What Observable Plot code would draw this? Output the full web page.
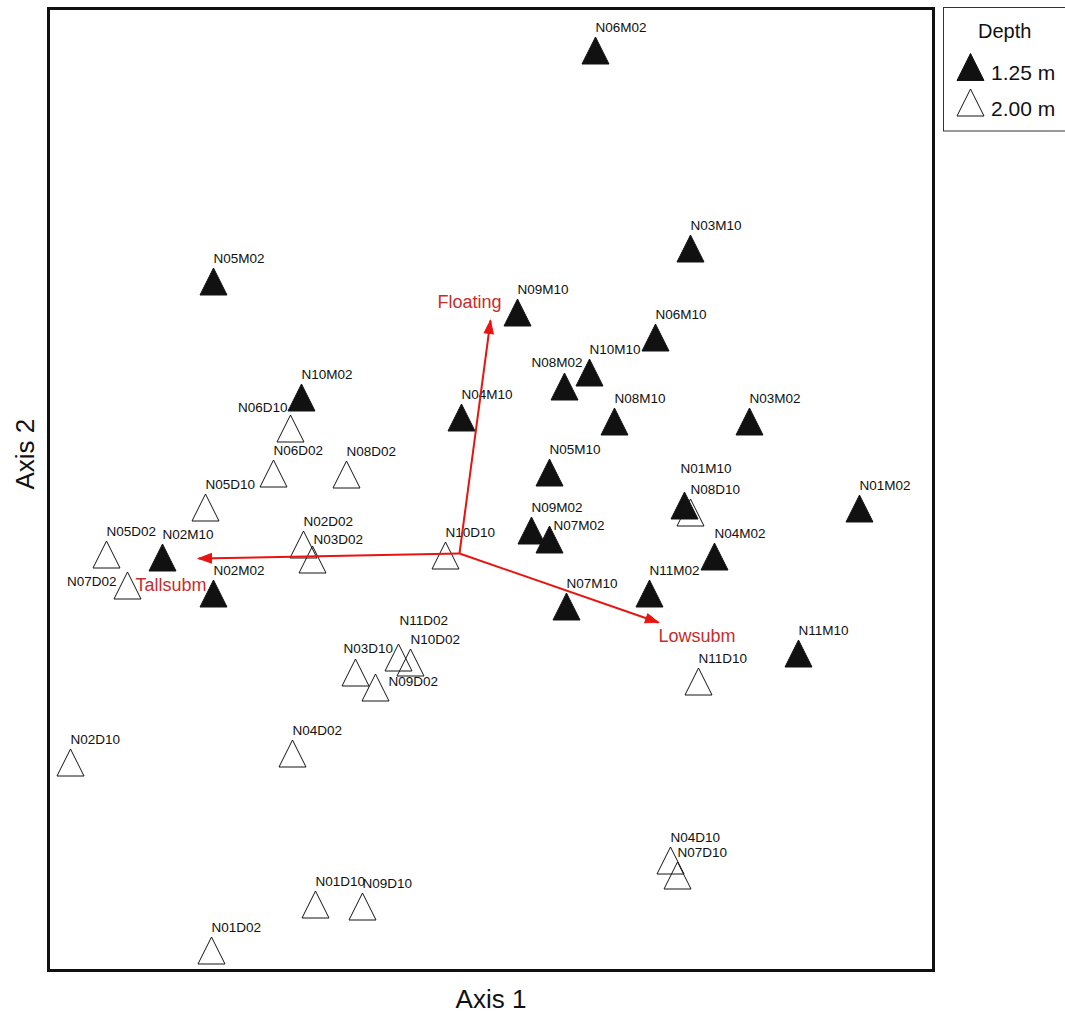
<!DOCTYPE html>
<html>
<head>
<meta charset="utf-8">
<script src="https://cdn.jsdelivr.net/npm/d3@7"></script>
<script src="https://cdn.jsdelivr.net/npm/@observablehq/plot@0.6"></script>
<style>
  html, body { margin: 0; padding: 0; background: #fff; }
  #figure { position: relative; width: 1065px; height: 1015px; overflow: hidden; }
  #legend { position: absolute; left: 943px; top: 7px; }
</style>
</head>
<body>
<div id="figure"></div>
<script>
// Sample unit scores on the first two ordination axes
const sites = [
  "N06M02", "N03M10", "N05M02", "N09M10", "N06M10", "N10M10", "N08M02", "N10M02",
  "N04M10", "N08M10", "N03M02", "N05M10", "N01M10", "N01M02", "N09M02", "N07M02",
  "N04M02", "N02M10", "N11M02", "N02M02", "N07M10", "N11M10",
  "N06D10", "N06D02", "N08D02", "N05D10", "N08D10", "N02D02", "N05D02", "N10D10",
  "N03D02", "N07D02", "N11D02", "N10D02", "N03D10", "N11D10", "N09D02", "N04D02",
  "N02D10", "N04D10", "N07D10", "N01D10", "N09D10", "N01D02"
];
const axis1 = [
  1.36, 2.31, -2.46, 0.58, 1.96, 1.30, 1.05, -1.58,
  0.02, 1.55, 2.90, 0.90, 2.25, 4.00, 0.72, 0.90,
  2.55, -2.97, 1.90, -2.46, 1.07, 3.39,
  -1.69, -1.86, -1.13, -2.54, 2.31, -1.56, -3.53, -0.14,
  -1.47, -3.32, -0.61, -0.49, -1.04, 2.39, -0.84, -1.67,
  -3.89, 2.11, 2.18, -1.44, -0.97, -2.48
];
const axis2 = [
  5.03, 3.05, 2.72, 2.41, 2.16, 1.81, 1.67, 1.56,
  1.36, 1.32, 1.32, 0.81, 0.48, 0.45, 0.23, 0.14,
  -0.03, -0.04, -0.40, -0.40, -0.53, -1.00,
  1.25, 0.80, 0.79, 0.46, 0.41, 0.09, -0.01, -0.02,
  -0.06, -0.32, -1.04, -1.09, -1.19, -1.28, -1.34, -2.00,
  -2.09, -3.07, -3.22, -3.51, -3.53, -3.97
];

// Depth groups: "M" samples at 1.25 m, "D" samples at 2.00 m
const depthLevels = ["1.25 m", "2.00 m"];

// Biplot vectors for the growth-form variables
const vectorNames = ["Floating", "Tallsubm", "Lowsubm"];
const vectorAxis1 = [0.31, -2.61, 1.99];
const vectorAxis2 = [2.33, -0.05, -0.69];

const samples = sites.map((site, i) => ({
  site,
  axis1: axis1[i],
  axis2: axis2[i],
  depth: site[3] === "M" ? depthLevels[0] : depthLevels[1]
}));
const vectors = vectorNames.map((name, i) => ({name, axis1: vectorAxis1[i], axis2: vectorAxis2[i]}));

// Label placement for crowded samples (pixel offsets from the point)
const labelNudges = [
  {site: "N06D10", dx: -3, dy: -17, anchor: "end"},
  {site: "N07D02", dx: -11, dy: 0, anchor: "end"},
  {site: "N03D02", dx: 1, dy: -16, anchor: "start"},
  {site: "N03D10", dx: -12, dy: -20, anchor: "start"},
  {site: "N09D02", dx: 13, dy: -2, anchor: "start"},
  {site: "N11D02", dx: 1, dy: -33, anchor: "start"},
  {site: "N01M10", dx: -4, dy: -33, anchor: "start"},
  {site: "N07M02", dx: 4, dy: -10, anchor: "start"},
  {site: "N08M02", dx: -33, dy: -20, anchor: "start"}
];
const vectorLabelStyle = {
  Floating: {dx: 11, dy: -13, anchor: "end"},
  Tallsubm: {dx: -63, dy: 32, anchor: "start"},
  Lowsubm: {dx: 0, dy: 19, anchor: "start"}
};

const font = "'Liberation Sans', Arial, Helvetica, sans-serif";
const arrowRed = "#e8140f";
const textRed = "#c92c2c";

// Isosceles triangle as wide as it is tall
const triangle = {
  draw(context, size) {
    const r = Math.sqrt(size / Math.PI);
    context.moveTo(0, -r);
    context.lineTo(r, r);
    context.lineTo(-r, r);
    context.closePath();
  }
};
// Arrowhead with its tip on the anchor point, pointing up before rotation
const arrowHead = {
  draw(context, size) {
    const r = Math.sqrt(size / Math.PI);
    context.moveTo(0, 0);
    context.lineTo(0.36 * r, r);
    context.lineTo(-0.36 * r, r);
    context.closePath();
  }
};

const nudged = new Set(labelNudges.map((d) => d.site));
const labelFont = {fontSize: 13.5, fill: "#111", lineAnchor: "bottom"};

const chart = Plot.plot({
  width: 1065,
  height: 1015,
  marginLeft: 48,
  marginRight: 132,
  marginTop: 8,
  marginBottom: 45,
  style: {fontFamily: font, background: "white", overflow: "visible"},
  x: {domain: [-4.11, 4.74], axis: null},
  y: {domain: [-4.17, 5.45], axis: null},
  color: {domain: depthLevels, range: ["#111111", "none"]},
  marks: [
    Plot.dot(samples, {
      x: "axis1", y: "axis2", symbol: triangle, r: 13.5,
      fill: "depth", stroke: "#141414", strokeWidth: 1
    }),
    Plot.text(samples.filter((d) => !nudged.has(d.site)), {
      x: "axis1", y: "axis2", text: "site", textAnchor: "start", dy: -18.5, ...labelFont
    }),
    ...labelNudges.map((n) =>
      Plot.text(samples.filter((d) => d.site === n.site), {
        x: "axis1", y: "axis2", text: "site", textAnchor: n.anchor, dx: n.dx, dy: n.dy, ...labelFont
      })
    ),
    Plot.link(vectors, {
      x1: () => 0, y1: () => 0, x2: "axis1", y2: "axis2",
      stroke: arrowRed, strokeWidth: 2
    }),
    Plot.dot(vectors, {
      x: "axis1", y: "axis2", symbol: arrowHead, r: 13,
      rotate: (d) => Math.atan2(d.axis1, d.axis2) * 180 / Math.PI,
      fill: arrowRed, stroke: arrowRed, strokeWidth: 1
    }),
    ...vectors.map((v) => {
      const s = vectorLabelStyle[v.name];
      return Plot.text([v], {
        x: "axis1", y: "axis2", text: "name", textAnchor: s.anchor, dx: s.dx, dy: s.dy,
        lineAnchor: "bottom", fontSize: 18, fill: textRed
      });
    }),
    Plot.text(["Axis 1"], {
      text: (d) => d, frameAnchor: "bottom", dy: 37, lineAnchor: "bottom", fontSize: 26, fill: "#111"
    }),
    Plot.text(["Axis 2"], {
      text: (d) => d, frameAnchor: "left", dx: -15, rotate: -90, lineAnchor: "bottom", fontSize: 26, fill: "#111"
    }),
    Plot.frame({stroke: "#111", strokeWidth: 3})
  ]
});

const figure = document.getElementById("figure");
figure.appendChild(chart);

// Depth legend built from the chart's own colour scale
const colorScale = chart.scale("color");
const legend = d3.create("svg")
  .attr("id", "legend")
  .attr("width", 122)
  .attr("height", 126)
  .style("font-family", font);
legend.append("rect")
  .attr("x", 0.5).attr("y", 0.5)
  .attr("width", 140).attr("height", 123.5)
  .attr("fill", "white").attr("stroke", "#333").attr("stroke-width", 1);
legend.append("text")
  .attr("x", 35).attr("y", 31)
  .attr("font-size", 20).attr("fill", "#111")
  .text("Depth");
const symbolPath = d3.symbol(triangle, Math.PI * 13.5 * 13.5);
colorScale.domain.forEach((level, i) => {
  const row = legend.append("g").attr("transform", `translate(0,${60 + 35.5 * i})`);
  row.append("path")
    .attr("transform", "translate(27.5,0)")
    .attr("d", symbolPath())
    .attr("fill", colorScale.range[i])
    .attr("stroke", "#141414");
  row.append("text")
    .attr("x", 48).attr("y", 13)
    .attr("font-size", 21).attr("fill", "#111")
    .text(level);
});
figure.appendChild(legend.node());
</script>
</body>
</html>
